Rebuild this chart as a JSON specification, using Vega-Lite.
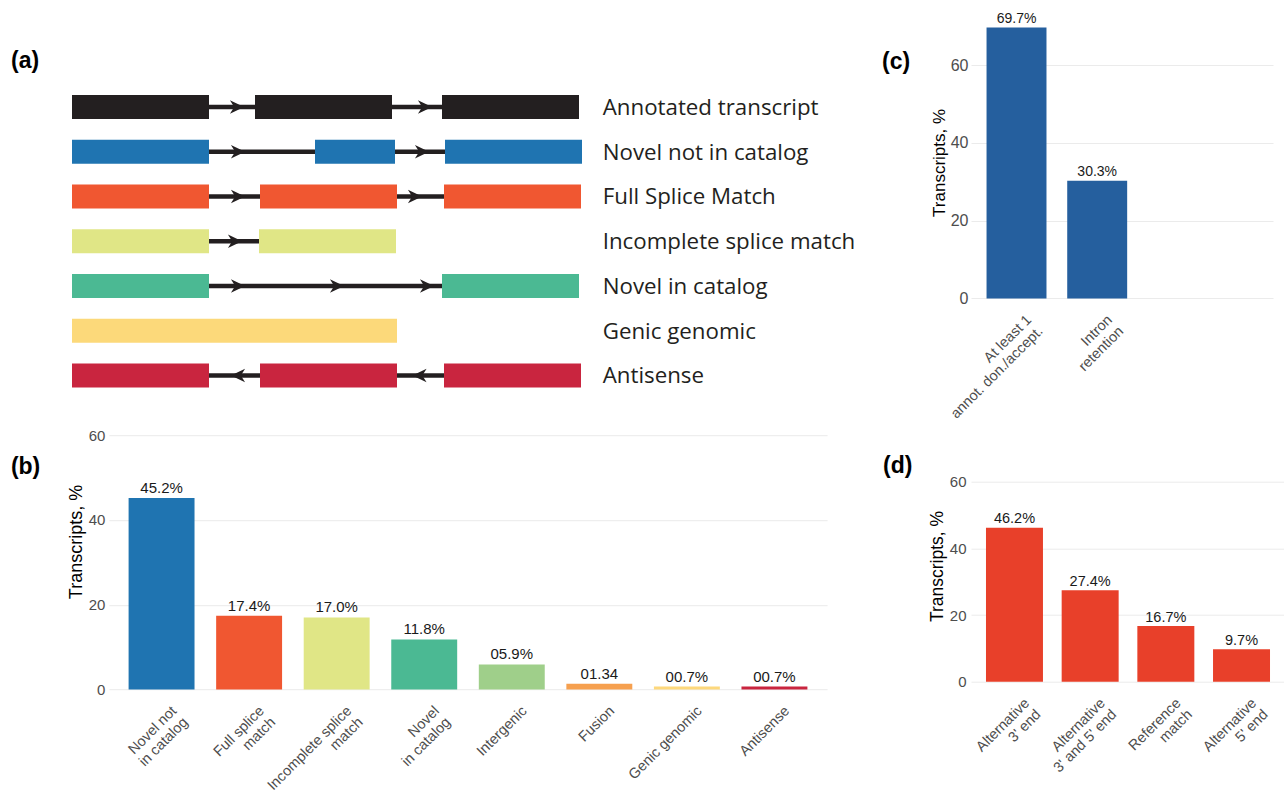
{
  "$schema": "https://vega.github.io/schema/vega-lite/v6.json",
  "background": "white",
  "padding": {"left": 10, "top": 11, "right": 0, "bottom": 0},
  "config": {
    "view": {"stroke": null},
    "font": "Liberation Sans",
    "axis": {"domain": false, "ticks": false, "grid": false, "labelFont": "Liberation Sans", "titleFont": "Liberation Sans", "labelColor": "#4d4d4d", "titleColor": "#000000", "titleFontWeight": "normal", "gridColor": "#ebebeb", "gridWidth": 1}
  },
  "bounds": "flush",
  "spacing": 899,
  "resolve": {"scale": {"color": "independent", "shape": "independent"}},
  "hconcat": [
    {
      "bounds": "flush",
      "center": true,
      "spacing": 39.2,
      "resolve": {"scale": {"color": "independent", "shape": "independent"}},
      "vconcat": [
        {
          "width": 792,
          "height": 381.9,
          "title": {"text": "(a)", "anchor": "start", "frame": "group", "fontSize": 23, "fontWeight": "bold", "font": "Liberation Sans", "color": "#000000", "baseline": "alphabetic", "offset": 0, "dx": -61, "dy": 77},
          "encoding": {
            "y": {"field": "row", "type": "nominal", "axis": null,
              "scale": {"domain": ["Annotated transcript", "Novel not in catalog", "Full Splice Match", "Incomplete splice match", "Novel in catalog", "Genic genomic", "Antisense"], "paddingInner": 0.466, "paddingOuter": 1.073, "align": 0.905}}
          },
          "layer": [
            {
              "data": {"values": [
                {"row": "Annotated transcript", "start": 137, "end": 183},
                {"row": "Annotated transcript", "start": 320, "end": 370},
                {"row": "Novel not in catalog", "start": 137, "end": 243},
                {"row": "Novel not in catalog", "start": 323, "end": 373},
                {"row": "Full Splice Match", "start": 137, "end": 188},
                {"row": "Full Splice Match", "start": 325, "end": 372},
                {"row": "Incomplete splice match", "start": 137, "end": 187},
                {"row": "Novel in catalog", "start": 137, "end": 370},
                {"row": "Antisense", "start": 137, "end": 188},
                {"row": "Antisense", "start": 325, "end": 372}
              ]},
              "mark": {"type": "rule", "color": "#231f20", "strokeWidth": 4.5},
              "encoding": {
                "x": {"field": "start", "type": "quantitative", "axis": null, "scale": {"domain": [0, 792], "nice": false, "zero": false}},
                "x2": {"field": "end"}
              }
            },
            {
              "data": {"values": [
                {"row": "Annotated transcript", "start": 0, "end": 137},
                {"row": "Annotated transcript", "start": 183, "end": 320},
                {"row": "Annotated transcript", "start": 370, "end": 507},
                {"row": "Novel not in catalog", "start": 0, "end": 137},
                {"row": "Novel not in catalog", "start": 243, "end": 323},
                {"row": "Novel not in catalog", "start": 373, "end": 510},
                {"row": "Full Splice Match", "start": 0, "end": 137},
                {"row": "Full Splice Match", "start": 188, "end": 325},
                {"row": "Full Splice Match", "start": 372, "end": 509},
                {"row": "Incomplete splice match", "start": 0, "end": 137},
                {"row": "Incomplete splice match", "start": 187, "end": 324},
                {"row": "Novel in catalog", "start": 0, "end": 137},
                {"row": "Novel in catalog", "start": 370, "end": 507},
                {"row": "Genic genomic", "start": 0, "end": 325},
                {"row": "Antisense", "start": 0, "end": 137},
                {"row": "Antisense", "start": 188, "end": 325},
                {"row": "Antisense", "start": 372, "end": 509}
              ]},
              "mark": {"type": "rect"},
              "encoding": {
                "x": {"field": "start", "type": "quantitative"},
                "x2": {"field": "end"},
                "color": {"field": "row", "type": "nominal", "legend": null,
                  "scale": {"domain": ["Annotated transcript", "Novel not in catalog", "Full Splice Match", "Incomplete splice match", "Novel in catalog", "Genic genomic", "Antisense"],
                            "range": ["#231f20", "#1f74b1", "#f05731", "#e0e686", "#4bb993", "#fcd97a", "#c9253f"]}}
              }
            },
            {
              "data": {"values": [
                {"row": "Annotated transcript", "pos": 165, "dir": "forward"},
                {"row": "Annotated transcript", "pos": 353, "dir": "forward"},
                {"row": "Novel not in catalog", "pos": 166, "dir": "forward"},
                {"row": "Novel not in catalog", "pos": 350, "dir": "forward"},
                {"row": "Full Splice Match", "pos": 166, "dir": "forward"},
                {"row": "Full Splice Match", "pos": 343, "dir": "forward"},
                {"row": "Incomplete splice match", "pos": 163, "dir": "forward"},
                {"row": "Novel in catalog", "pos": 166, "dir": "forward"},
                {"row": "Novel in catalog", "pos": 265, "dir": "forward"},
                {"row": "Novel in catalog", "pos": 355, "dir": "forward"},
                {"row": "Antisense", "pos": 166, "dir": "reverse"},
                {"row": "Antisense", "pos": 347.5, "dir": "reverse"}
              ]},
              "mark": {"type": "point", "filled": true, "color": "#231f20", "opacity": 1, "size": 200},
              "encoding": {
                "x": {"field": "pos", "type": "quantitative"},
                "shape": {"field": "dir", "type": "nominal", "legend": null,
                  "scale": {"domain": ["forward", "reverse"], "range": ["M1,0L-1,-0.95L-0.4,0L-1,0.95Z", "M-1,0L1,-0.95L0.4,0L1,0.95Z"]}}
              }
            },
            {
              "data": {"values": [
                {"row": "Annotated transcript"},
                {"row": "Novel not in catalog"},
                {"row": "Full Splice Match"},
                {"row": "Incomplete splice match"},
                {"row": "Novel in catalog"},
                {"row": "Genic genomic"},
                {"row": "Antisense"}
              ]},
              "mark": {"type": "text", "align": "left", "baseline": "alphabetic", "dy": 8, "font": "Open Sans", "fontSize": 22.3, "color": "#231f20"},
              "encoding": {
                "x": {"datum": 530.7, "type": "quantitative"},
                "text": {"field": "row"}
              }
            }
          ]
        },
        {
          "width": 718.2,
          "height": 254.3,
          "title": {"text": "(b)", "anchor": "start", "frame": "group", "fontSize": 23, "fontWeight": "bold", "font": "Liberation Sans", "color": "#000000", "baseline": "alphabetic", "offset": 0, "dx": -98, "dy": 69},
          "data": {"values": [
            {"category": "Novel not\nin catalog", "value": 45.2, "label": "45.2%"},
            {"category": "Full splice\nmatch", "value": 17.4, "label": "17.4%"},
            {"category": "Incomplete splice\nmatch", "value": 17.0, "label": "17.0%"},
            {"category": "Novel\nin catalog", "value": 11.8, "label": "11.8%"},
            {"category": "Intergenic", "value": 5.9, "label": "05.9%"},
            {"category": "Fusion", "value": 1.34, "label": "01.34"},
            {"category": "Genic genomic", "value": 0.7, "label": "00.7%"},
            {"category": "Antisense", "value": 0.7, "label": "00.7%"}
          ]},
          "encoding": {
            "x": {"field": "category", "type": "nominal", "sort": null,
              "scale": {"paddingInner": 0.247, "paddingOuter": 0.225},
              "axis": {"title": null, "labelAngle": -45, "labelAlign": "right", "labelBaseline": "top", "labelFontSize": 14.5, "labelLineHeight": 16, "labelPadding": 14, "labelOffset": 8, "labelOverlap": false, "labelLimit": 0, "labelExpr": "split(datum.label, '\\n')"}},
            "y": {"field": "value", "type": "quantitative",
              "scale": {"domain": [0, 60], "nice": false},
              "axis": {"values": [0, 20, 40, 60], "grid": true, "title": "Transcripts, %", "titleFontSize": 18, "titlePadding": 3, "titleY": 106.3, "labelFontSize": 15, "labelPadding": 4}}
          },
          "layer": [
            {
              "mark": {"type": "bar"},
              "encoding": {
                "color": {"field": "category", "type": "nominal", "legend": null, "sort": null,
                  "scale": {"domain": ["Novel not\nin catalog", "Full splice\nmatch", "Incomplete splice\nmatch", "Novel\nin catalog", "Intergenic", "Fusion", "Genic genomic", "Antisense"],
                            "range": ["#1f74b1", "#f05731", "#e0e686", "#4bb993", "#9fcf8a", "#f6a04f", "#fdd87c", "#c9253f"]}}
              }
            },
            {
              "mark": {"type": "text", "baseline": "alphabetic", "dy": -5, "fontSize": 15, "font": "Liberation Sans", "color": "#1a1a1a"},
              "encoding": {"text": {"field": "label"}}
            }
          ]
        }
      ]
    },
    {
      "bounds": "flush",
      "spacing": 182.7,
      "vconcat": [
        {
          "width": 302,
          "height": 284.4,
          "title": {"text": "(c)", "anchor": "start", "frame": "group", "fontSize": 23, "fontWeight": "bold", "font": "Liberation Sans", "color": "#000000", "baseline": "alphabetic", "offset": 0, "dx": -89, "dy": 80},
          "data": {"values": [
            {"category": "At least 1\nannot. don./accept.", "value": 69.7, "label": "69.7%"},
            {"category": "Intron\nretention", "value": 30.3, "label": "30.3%"}
          ]},
          "encoding": {
            "x": {"field": "category", "type": "nominal", "sort": null,
              "scale": {"paddingInner": 0.257, "paddingOuter": 1.2257, "align": 0.0963},
              "axis": {"title": null, "labelAngle": -45, "labelAlign": "right", "labelBaseline": "top", "labelFontSize": 14.5, "labelLineHeight": 16, "labelPadding": 14, "labelOffset": 8, "labelOverlap": false, "labelLimit": 0, "labelExpr": "split(datum.label, '\\n')"}},
            "y": {"field": "value", "type": "quantitative",
              "scale": {"domain": [0, 73.2], "nice": false},
              "axis": {"values": [0, 20, 40, 60], "grid": true, "title": "Transcripts, %", "titleFontSize": 17, "titlePadding": 2, "titleY": 148.4, "labelFontSize": 16, "labelPadding": 3}}
          },
          "layer": [
            {"mark": {"type": "bar", "color": "#255f9e"}},
            {
              "mark": {"type": "text", "baseline": "alphabetic", "dy": -5, "fontSize": 14, "font": "Liberation Sans", "color": "#1a1a1a"},
              "encoding": {"text": {"field": "label"}}
            }
          ]
        },
        {
          "width": 314,
          "height": 200,
          "title": {"text": "(d)", "anchor": "start", "frame": "group", "fontSize": 23, "fontWeight": "bold", "font": "Liberation Sans", "color": "#000000", "baseline": "alphabetic", "offset": 0, "dx": -88, "dy": 21},
          "data": {"values": [
            {"category": "Alternative\n3' end", "value": 46.2, "label": "46.2%"},
            {"category": "Alternative\n3' and 5' end", "value": 27.4, "label": "27.4%"},
            {"category": "Reference\nmatch", "value": 16.7, "label": "16.7%"},
            {"category": "Alternative\n5' end", "value": 9.7, "label": "9.7%"}
          ]},
          "encoding": {
            "x": {"field": "category", "type": "nominal", "sort": null,
              "scale": {"paddingInner": 0.247, "paddingOuter": 0.198},
              "axis": {"title": null, "labelAngle": -45, "labelAlign": "right", "labelBaseline": "top", "labelFontSize": 14.5, "labelLineHeight": 16, "labelPadding": 14, "labelOffset": 8, "labelOverlap": false, "labelLimit": 0, "labelExpr": "split(datum.label, '\\n')"}},
            "y": {"field": "value", "type": "quantitative",
              "scale": {"domain": [0, 60], "nice": false},
              "axis": {"values": [0, 20, 40, 60], "grid": true, "title": "Transcripts, %", "titleFontSize": 17.5, "titlePadding": 3, "titleY": 84.3, "labelFontSize": 15, "labelPadding": 5}}
          },
          "layer": [
            {"mark": {"type": "bar", "color": "#e8402a"}},
            {
              "mark": {"type": "text", "baseline": "alphabetic", "dy": -4.5, "fontSize": 14.5, "font": "Liberation Sans", "color": "#1a1a1a"},
              "encoding": {"text": {"field": "label"}}
            }
          ]
        }
      ]
    }
  ]
}
